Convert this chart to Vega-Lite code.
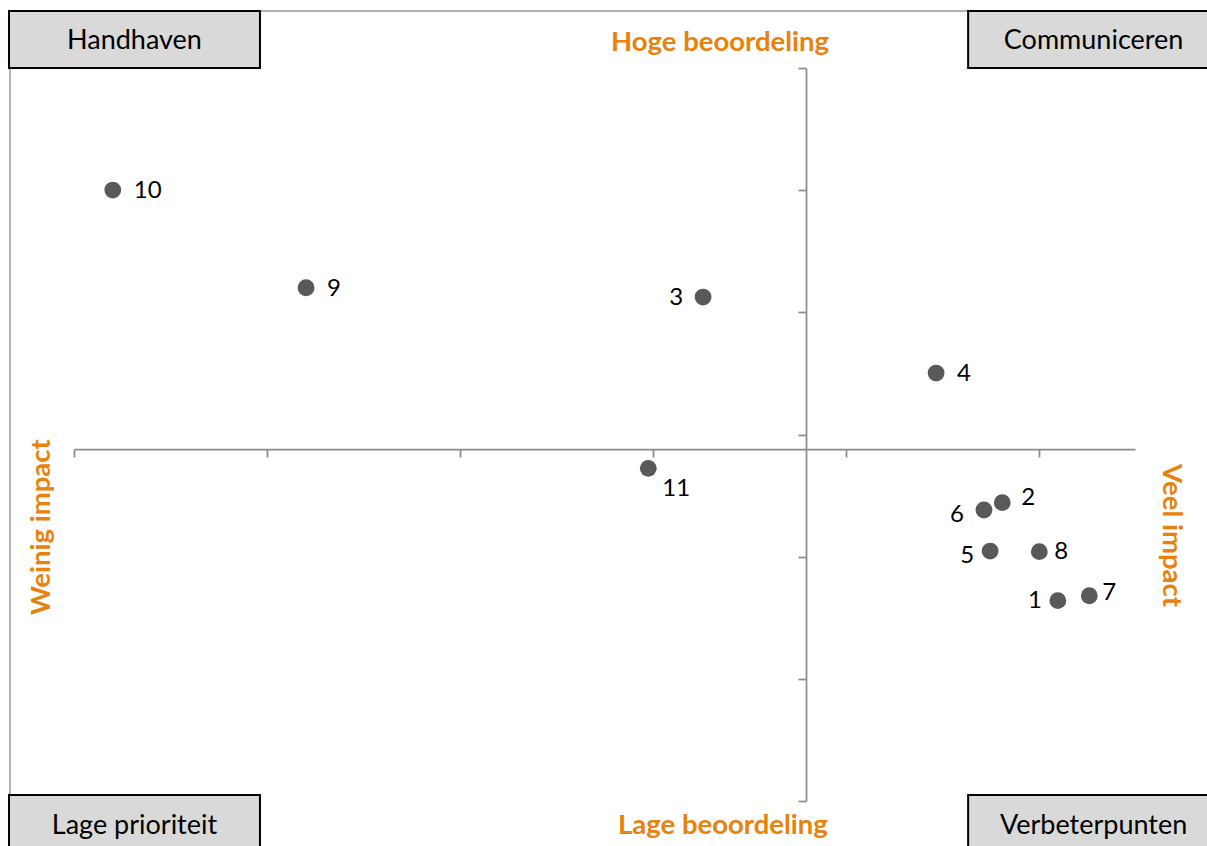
{
  "$schema": "https://vega.github.io/schema/vega-lite/v6.json",
  "width": 1061,
  "height": 733,
  "autosize": {"type": "none"},
  "padding": {"left": 74, "top": 68, "right": 72, "bottom": 45},
  "background": "white",
  "config": {"view": {"stroke": null}, "font": "Lato"},
  "datasets": {
    "points": [
      {"id": 1, "x": 5.100, "y": 1.640},
      {"id": 2, "x": 4.812, "y": 2.442},
      {"id": 3, "x": 3.261, "y": 4.125},
      {"id": 4, "x": 4.469, "y": 3.503},
      {"id": 5, "x": 4.749, "y": 2.046},
      {"id": 6, "x": 4.717, "y": 2.382},
      {"id": 7, "x": 5.263, "y": 1.680},
      {"id": 8, "x": 5.004, "y": 2.041},
      {"id": 9, "x": 1.203, "y": 4.201},
      {"id": 10, "x": 0.201, "y": 5.001},
      {"id": 11, "x": 2.977, "y": 2.723}
    ],
    "frame": [
      {"x": -0.332, "x2": 6.4, "y": 6.466, "y2": -0.7}
    ],
    "quadboxes": [
      {"x": -0.337, "x2": 0.964, "y": 6.0, "y2": 6.466},
      {"x": 4.635, "x2": 5.936, "y": 6.0, "y2": 6.466},
      {"x": -0.337, "x2": 0.964, "y": 0.049, "y2": -0.458},
      {"x": 4.635, "x2": 5.936, "y": 0.049, "y2": -0.458}
    ],
    "quadlabels": [
      {"label": "Handhaven", "x": 0.3135, "y": 6.155},
      {"label": "Communiceren", "x": 5.2855, "y": 6.155},
      {"label": "Lage prioriteit", "x": 0.3135, "y": -0.270},
      {"label": "Verbeterpunten", "x": 5.2855, "y": -0.270}
    ],
    "titles": [
      {"label": "Hoge beoordeling", "x": 3.349, "y": 6.139},
      {"label": "Lage beoordeling", "x": 3.364, "y": -0.270},
      {"label": "Weinig impact", "x": -0.124, "y": 2.242},
      {"label": "Veel impact", "x": 5.645, "y": 2.173}
    ]
  },
  "encoding": {
    "x": {
      "field": "x", "type": "quantitative", "title": null,
      "scale": {"domain": [0, 5.5], "nice": false, "zero": false},
      "axis": {"values": [0, 1, 2, 3, 4, 5], "labels": false, "grid": false, "offset": -352,
               "domainColor": "#8c8c8c", "domainWidth": 1.75, "tickColor": "#8c8c8c", "tickWidth": 1.75, "tickSize": 8}
    },
    "y": {
      "field": "y", "type": "quantitative", "title": null,
      "scale": {"domain": [0, 6], "nice": false, "zero": false},
      "axis": {"values": [0, 1, 2, 3, 4, 5, 6], "labels": false, "grid": false, "offset": -732,
               "domainColor": "#8c8c8c", "domainWidth": 1.75, "tickColor": "#8c8c8c", "tickWidth": 1.75, "tickSize": 8}
    }
  },
  "layer": [
    {
      "data": {"name": "frame"},
      "mark": {"type": "rect", "fill": null, "stroke": "#999999", "strokeWidth": 1.5},
      "encoding": {"x2": {"field": "x2"}, "y2": {"field": "y2"}}
    },
    {
      "data": {"name": "points"},
      "mark": {"type": "circle", "size": 283, "color": "#595959", "opacity": 1}
    },
    {
      "data": {"name": "points"},
      "transform": [{"filter": {"field": "id", "oneOf": [10, 9, 4]}}],
      "mark": {"type": "text", "align": "left", "baseline": "middle", "dx": 21, "dy": 1, "fontSize": 24, "font": "Lato", "color": "#000000"},
      "encoding": {"text": {"field": "id"}}
    },
    {
      "data": {"name": "points"},
      "transform": [{"filter": {"field": "id", "oneOf": [8]}}],
      "mark": {"type": "text", "align": "left", "baseline": "middle", "dx": 15, "dy": 0, "fontSize": 24, "font": "Lato", "color": "#000000"},
      "encoding": {"text": {"field": "id"}}
    },
    {
      "data": {"name": "points"},
      "transform": [{"filter": {"field": "id", "oneOf": [2]}}],
      "mark": {"type": "text", "align": "left", "baseline": "middle", "dx": 19, "dy": -5, "fontSize": 24, "font": "Lato", "color": "#000000"},
      "encoding": {"text": {"field": "id"}}
    },
    {
      "data": {"name": "points"},
      "transform": [{"filter": {"field": "id", "oneOf": [7]}}],
      "mark": {"type": "text", "align": "left", "baseline": "middle", "dx": 13, "dy": -3, "fontSize": 24, "font": "Lato", "color": "#000000"},
      "encoding": {"text": {"field": "id"}}
    },
    {
      "data": {"name": "points"},
      "transform": [{"filter": {"field": "id", "oneOf": [3]}}],
      "mark": {"type": "text", "align": "right", "baseline": "middle", "dx": -20, "dy": 1, "fontSize": 24, "font": "Lato", "color": "#000000"},
      "encoding": {"text": {"field": "id"}}
    },
    {
      "data": {"name": "points"},
      "transform": [{"filter": {"field": "id", "oneOf": [6]}}],
      "mark": {"type": "text", "align": "right", "baseline": "middle", "dx": -20, "dy": 5, "fontSize": 24, "font": "Lato", "color": "#000000"},
      "encoding": {"text": {"field": "id"}}
    },
    {
      "data": {"name": "points"},
      "transform": [{"filter": {"field": "id", "oneOf": [5]}}],
      "mark": {"type": "text", "align": "right", "baseline": "middle", "dx": -16, "dy": 5, "fontSize": 24, "font": "Lato", "color": "#000000"},
      "encoding": {"text": {"field": "id"}}
    },
    {
      "data": {"name": "points"},
      "transform": [{"filter": {"field": "id", "oneOf": [1]}}],
      "mark": {"type": "text", "align": "right", "baseline": "middle", "dx": -16, "dy": 0, "fontSize": 24, "font": "Lato", "color": "#000000"},
      "encoding": {"text": {"field": "id"}}
    },
    {
      "data": {"name": "points"},
      "transform": [{"filter": {"field": "id", "oneOf": [11]}}],
      "mark": {"type": "text", "align": "left", "baseline": "middle", "dx": 14, "dy": 21, "fontSize": 24, "font": "Lato", "color": "#000000"},
      "encoding": {"text": {"field": "id"}}
    },
    {
      "data": {"name": "quadboxes"},
      "mark": {"type": "rect", "fill": "#d9d9d9", "stroke": "#000000", "strokeWidth": 2},
      "encoding": {"x2": {"field": "x2"}, "y2": {"field": "y2"}}
    },
    {
      "data": {"name": "quadlabels"},
      "mark": {"type": "text", "align": "center", "baseline": "alphabetic", "fontSize": 27, "font": "Lato", "color": "#000000"},
      "encoding": {"text": {"field": "label"}}
    },
    {
      "data": {"name": "titles"},
      "transform": [{"filter": {"field": "label", "oneOf": ["Hoge beoordeling", "Lage beoordeling"]}}],
      "mark": {"type": "text", "align": "center", "baseline": "alphabetic", "fontSize": 27.5, "fontWeight": "bold", "font": "Lato", "color": "#e8820c"},
      "encoding": {"text": {"field": "label"}}
    },
    {
      "data": {"name": "titles"},
      "transform": [{"filter": {"field": "label", "oneOf": ["Weinig impact"]}}],
      "mark": {"type": "text", "align": "center", "baseline": "alphabetic", "angle": 270, "fontSize": 27.5, "fontWeight": "bold", "font": "Lato", "color": "#e8820c"},
      "encoding": {"text": {"field": "label"}}
    },
    {
      "data": {"name": "titles"},
      "transform": [{"filter": {"field": "label", "oneOf": ["Veel impact"]}}],
      "mark": {"type": "text", "align": "center", "baseline": "alphabetic", "angle": 90, "fontSize": 27.5, "fontWeight": "bold", "font": "Lato", "color": "#e8820c"},
      "encoding": {"text": {"field": "label"}}
    }
  ]
}
